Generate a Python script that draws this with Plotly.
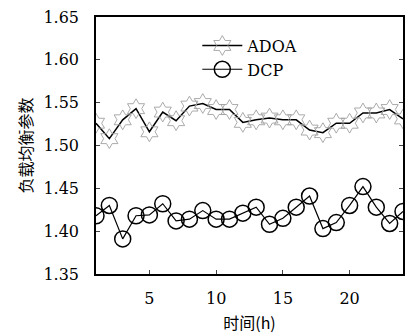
import plotly.graph_objects as go

hours = list(range(1, 25))
adoa = [1.526, 1.508, 1.530, 1.543, 1.516, 1.539, 1.529, 1.546, 1.549, 1.542, 1.542, 1.527,
        1.530, 1.532, 1.530, 1.530, 1.518, 1.515, 1.526, 1.526, 1.538, 1.538, 1.542, 1.531]
dcp = [1.418, 1.430, 1.391, 1.418, 1.419, 1.432, 1.412, 1.414, 1.424, 1.414, 1.414, 1.421,
       1.428, 1.408, 1.415, 1.428, 1.441, 1.403, 1.410, 1.430, 1.452, 1.428, 1.409, 1.423]
xticks = [5, 10, 15, 20]
yticks = [1.35, 1.40, 1.45, 1.50, 1.55, 1.60, 1.65]

serif = "DejaVu Serif"
cjk = "Noto Sans CJK SC"

fig = go.Figure()
fig.add_trace(go.Scatter(
    x=hours, y=adoa, name="ADOA", mode="lines+markers",
    line=dict(color="black", width=1.5),
    marker=dict(symbol="hexagram-open", size=15, color="#a0a0a0", line=dict(width=0.9, color="#a0a0a0")),
))
fig.add_trace(go.Scatter(
    x=hours, y=dcp, name="DCP", mode="lines+markers",
    line=dict(color="black", width=1.2),
    marker=dict(symbol="circle-open", size=16, color="black", line=dict(width=1.5, color="black")),
))

fig.update_layout(
    width=409, height=336,
    margin=dict(l=96, r=4, t=17, b=62),
    paper_bgcolor="white", plot_bgcolor="white",
    font=dict(family=serif, size=16, color="black"),
    showlegend=True,
    legend=dict(x=0.33, y=0.955, xanchor="left", yanchor="top",
                bgcolor="rgba(0,0,0,0)", font=dict(family=serif, size=16),
                tracegroupgap=0, itemwidth=40),
    xaxis=dict(range=[1, 24], tickvals=xticks, ticks="inside", ticklen=4,
               tickfont=dict(family=serif, size=16),
               showline=True, linecolor="black", linewidth=1.5, mirror=True,
               showgrid=False, zeroline=False, ticklabelstandoff=9,
               title=dict(text="时间(h)", font=dict(family=cjk, size=16), standoff=11)),
    yaxis=dict(range=[1.35, 1.65], tickvals=yticks, tickformat=".2f", ticks="inside", ticklen=4,
               tickfont=dict(family=serif, size=16),
               showline=True, linecolor="black", linewidth=1.5, mirror="ticks",
               showgrid=False, zeroline=False, ticklabelstandoff=12,
               title=dict(text="负载均衡参数", font=dict(family=cjk, size=16), standoff=7)),
)

fig.write_html("out.html", config={"displayModeBar": False},
               post_script="document.body.style.margin='0';")
